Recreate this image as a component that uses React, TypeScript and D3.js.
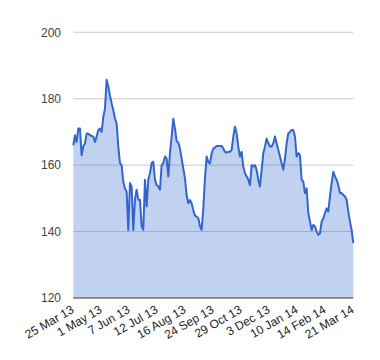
import React from "react";
import * as d3 from "d3";

const tickLabels = ["25 Mar 13", "1 May 13", "7 Jun 13", "12 Jul 13", "16 Aug 13", "24 Sep 13", "29 Oct 13", "3 Dec 13", "10 Jan 14", "14 Feb 14", "21 Mar 14"];
const yTicks = [120, 140, 160, 180, 200];
const prices = [
  166, 169, 167, 171, 171, 163, 165.6, 166.6, 169.5, 169.5,
  169, 168.8, 168.6, 167, 168.6, 170.6, 171, 170, 174.5, 177,
  185.7, 183.7, 181, 178.6, 176.6, 174, 172.6, 165.6, 160.6, 160,
  155, 153, 152, 140.5, 154.6, 153.6, 140.5, 149.6, 152.6, 149.6,
  149.6, 141.6, 140.5, 155.6, 147.6, 155.6, 157.6, 160.6, 161, 155.6,
  154, 153.6, 152.6, 160, 160.6, 162.6, 162, 156.6, 163.6, 168.6,
  174, 171, 167.2, 166.8, 165, 162, 159, 156, 151, 148.5,
  149.5, 148.5, 146.5, 144.8, 144.5, 144, 141.6, 140.5, 147, 156,
  162.6, 161, 160.5, 163.5, 165, 165.3, 165.8, 165.8, 165.8, 165.8,
  165, 164, 163.8, 164, 164, 164.6, 168.6, 171.6, 169.6, 165.6,
  162.6, 164, 159.6, 157.6, 156.6, 155.6, 154, 160, 159.6, 160,
  158.6, 155.6, 153.6, 158.6, 163.6, 165.6, 168, 166.6, 165.6, 165.6,
  166.6, 168.6, 166.6, 164.6, 162.6, 160.6, 158.6, 162, 166.6, 169.6,
  170, 170.6, 170.6, 168.6, 162.6, 163.6, 163, 155.6, 155, 151.6,
  153, 145.6, 143, 140.5, 142, 141.6, 140, 139, 139.5, 143,
  144, 145.6, 147, 146, 150.6, 154.6, 158, 156.6, 155.6, 154,
  151.6, 151.6, 151, 150.6, 149.6, 146, 143, 140.5, 136.5
];

const W = 380, H = 360;
const left = 73.3, right = 353.3, top = 32.3, bottom = 298;

export default function App() {
  const n = prices.length;
  const x = d3.scaleLinear().domain([0, n - 1]).range([left, right]);
  const y = d3.scaleLinear().domain([120, 200]).range([bottom, top]);
  const line = d3.line<number>().x((_, i) => x(i)).y((d) => y(d));
  const area = d3.area<number>().x((_, i) => x(i)).y0(y(120)).y1((d) => y(d));
  const labelX = (i: number) => x((i * (n - 1)) / (tickLabels.length - 1));
  const font = "Arial, 'Liberation Sans', sans-serif";
  return (
    <svg width={W} height={H} style={{ position: "absolute", left: 0, top: 0, background: "#fff" }}>
      {yTicks.map((t) => (
        <g key={t}>
          {t !== 120 && (
            <line x1={left} x2={right} y1={y(t)} y2={y(t)} stroke="#cccccc" strokeWidth={1} />
          )}
          <text x={61} y={y(t)} dy="0.35em" textAnchor="end" fontFamily={font} fontSize={12} fill="#444">
            {t}
          </text>
        </g>
      ))}
      <path d={area(prices) || ""} fill="#3366cc" fillOpacity={0.3} />
      <path d={line(prices) || ""} fill="none" stroke="#3366cc" strokeWidth={2} strokeLinejoin="round" />
      <line x1={left} x2={right} y1={y(120)} y2={y(120)} stroke="#333" strokeWidth={1} />
      {tickLabels.map((l, i) => (
        <text
          key={l}
          transform={`translate(${labelX(i) + 1.5},${bottom + 14}) rotate(-30)`}
          textAnchor="end"
          fontFamily={font}
          fontSize={12}
          fill="#222"
        >
          {l}
        </text>
      ))}
    </svg>
  );
}
